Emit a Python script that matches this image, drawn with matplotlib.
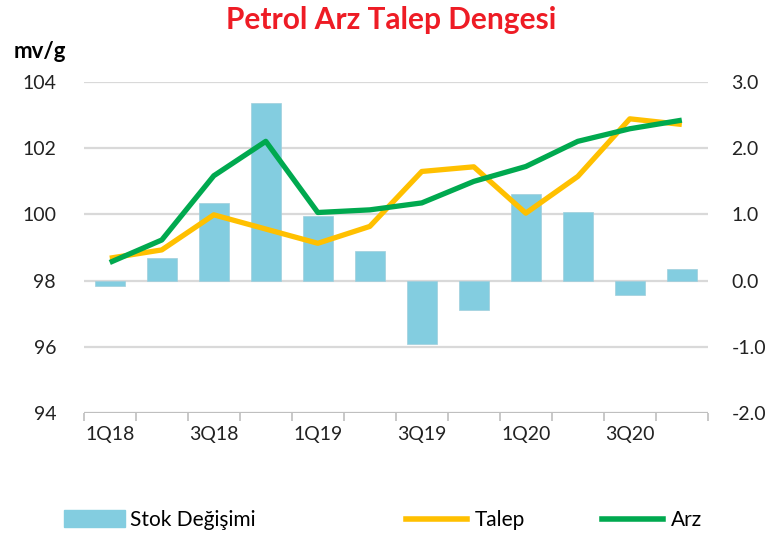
import numpy as np
import matplotlib.pyplot as plt

plt.rcParams['font.family'] = ['Lato', 'DejaVu Sans']

## data
quarters = ['1Q18', '2Q18', '3Q18', '4Q18', '1Q19', '2Q19', '3Q19', '4Q19',
            '1Q20', '2Q20', '3Q20', '4Q20']
stok = [-0.08, 0.35, 1.18, 2.68, 0.98, 0.45, -0.95, -0.44, 1.31, 1.04, -0.21, 0.18]
talep = [98.68, 98.93, 99.99, 99.56, 99.13, 99.64, 101.30, 101.44, 100.04, 101.15, 102.89, 102.72]
arz = [98.55, 99.23, 101.17, 102.21, 100.06, 100.14, 100.35, 101.0, 101.45, 102.21, 102.59, 102.85]
left_ticks = [94, 96, 98, 100, 102, 104]
right_ticks = [-2, -1, 0, 1, 2, 3]

x = np.arange(len(quarters))
grid_c = '#d9d9d9'

fig = plt.figure(figsize=(7.83, 5.40), dpi=100)
ax = fig.add_axes([0.107, 0.235, 0.797, 0.613])
ax2 = ax.twinx()

## bars on the right axis, behind the lines
ax2.bar(x, stok, width=0.58, color='#83cde0', edgecolor='#9fcfdc', linewidth=0.5, zorder=2)
ax2.set_ylim(-2, 3)
ax2.set_yticks(right_ticks)
ax2.set_yticklabels(['%.1f' % v for v in right_ticks])
for v in right_ticks[1:]:
    ax2.axhline(v, color=grid_c, lw=1.6, zorder=1)

ax.set_zorder(ax2.get_zorder() + 1)
ax.patch.set_visible(False)
ax.plot(x, talep, color='#ffc000', lw=3.8, solid_capstyle='butt', zorder=3)
ax.plot(x, arz, color='#00a94f', lw=3.8, solid_capstyle='butt', zorder=4)
ax.set_ylim(94, 104)
ax.set_yticks(left_ticks)

for a in (ax, ax2):
    for s in ['top', 'left', 'right']:
        a.spines[s].set_visible(False)
    a.spines['bottom'].set_visible(False)
    a.tick_params(axis='y', length=0, labelsize=14, colors='#222222', pad=20)
ax2.tick_params(axis='y', pad=17)
ax.axhline(94, color='#bfbfbf', lw=1.6, zorder=1)

ax.set_xlim(-0.5, 11.5)
ax.set_xticks(np.arange(-0.5, 12, 1))
ax.set_xticklabels([])
ax.tick_params(axis='x', which='major', length=6, color='#bfbfbf', width=1.2)
ax.set_xticks(x[::2], minor=True)
ax.set_xticklabels(quarters[::2], minor=True)
ax.tick_params(axis='x', which='minor', length=0, labelsize=14, colors='#222222', pad=9)

fig.text(0.5, 0.963, 'Petrol Arz Talep Dengesi', color='#ee1c25', fontsize=21.5,
         fontweight='bold', ha='center', va='center')
fig.text(0.018, 0.905, 'mv/g', fontsize=16, fontweight='bold', ha='left', va='center')

## legend
h_bar = plt.Rectangle((0, 0), 1, 1, color='#83cde0')
h_t = plt.Line2D([], [], color='#ffc000', lw=4)
h_a = plt.Line2D([], [], color='#00a94f', lw=4)
fig.legend([h_bar], ['Stok Değişimi'], loc='center left', bbox_to_anchor=(0.058, 0.037),
           frameon=False, fontsize=15, handlelength=2.9, handleheight=0.9, handletextpad=0.25)
fig.legend([h_t, h_a], ['Talep', 'Arz'], loc='center left', bbox_to_anchor=(0.495, 0.037),
           frameon=False, fontsize=15, ncol=2, handlelength=2.9, handletextpad=0.4,
           columnspacing=3.7)

fig.savefig('out.png', dpi=100)
